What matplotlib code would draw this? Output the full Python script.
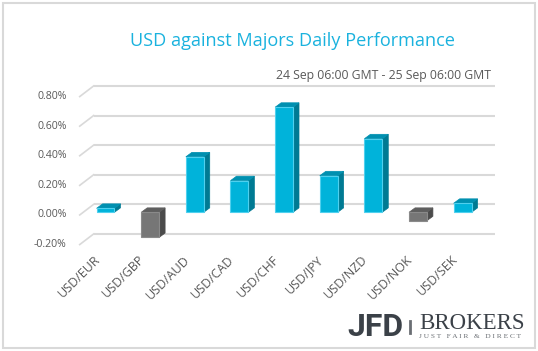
import matplotlib
matplotlib.use("Agg")
from matplotlib import pyplot as plt
from matplotlib.patches import Polygon, Rectangle
from matplotlib.lines import Line2D

pairs = ["USD/EUR", "USD/GBP", "USD/AUD", "USD/CAD", "USD/CHF",
         "USD/JPY", "USD/NZD", "USD/NOK", "USD/SEK"]
changes = [0.027, -0.17, 0.375, 0.214, 0.71, 0.247, 0.497, -0.057, 0.061]
y_ticks = [-0.2, 0.0, 0.2, 0.4, 0.6, 0.8]
y_tick_labels = ["-0.20%", "0.00%", "0.20%", "0.40%", "0.60%", "0.80%"]

W, H = 538, 351
plt.rcParams["font.family"] = ["Open Sans", "DejaVu Sans"]

fig = plt.figure(figsize=(W / 100, H / 100), dpi=100)


def fx(px):
    return px / W


def fy(py):
    return 1 - py / H


# axes box = bar plane, x from -0.5 to 8.5, y from -0.2 to 0.8
ax = fig.add_axes([fx(83.2), fy(241.9), (484.9 - 83.2) / W, (241.9 - 93.9) / H])
ax.set_xlim(-0.5, 8.5)
ax.set_ylim(-0.2, 0.8)
ax.axis("off")

# perspective offsets (data units)
back_dx, back_dy = 0.235, 0.054
front_dx, front_dy = -0.078, -0.018
depth_dx, depth_dy = 0.135, 0.030
bar_w = 0.40

grid_col = "#d9d9d9"
for t, lab in zip(y_ticks, y_tick_labels):
    ax.plot([-0.5 + back_dx, 8.5 + back_dx], [t + back_dy, t + back_dy],
            color=grid_col, lw=1.5, zorder=1, clip_on=False, solid_capstyle="butt")
    ax.plot([-0.5 + front_dx, -0.5 + back_dx], [t + front_dy, t + back_dy],
            color=grid_col, lw=1.2, zorder=1, clip_on=False)
    ax.text(-0.87, t + front_dy, lab, ha="right", va="center",
            fontsize=7.6, color="#595959")

blue = ("#00b3da", "#007a93", "#0090b0", "#4fd0ee")
grey = ("#767676", "#4b4b4b", "#5e5e5e", "#8a8a8a")

for i, v in enumerate(changes):
    front, side, top, edge = blue if v >= 0 else grey
    lo, hi = min(0, v), max(0, v)
    xl, xr = i - bar_w / 2, i + bar_w / 2
    ax.add_patch(Polygon([(xr, lo), (xr + depth_dx, lo + depth_dy),
                          (xr + depth_dx, hi + depth_dy), (xr, hi)],
                         closed=True, facecolor=side, edgecolor=side, lw=0.5,
                         zorder=3, clip_on=False))
    ax.add_patch(Polygon([(xl, hi), (xr, hi), (xr + depth_dx, hi + depth_dy),
                          (xl + depth_dx, hi + depth_dy)],
                         closed=True, facecolor=top, edgecolor=top, lw=0.5,
                         zorder=3, clip_on=False))
ax.bar(range(len(changes)), changes, width=bar_w,
       color=[blue[0] if v >= 0 else grey[0] for v in changes],
       edgecolor=[blue[3] if v >= 0 else grey[3] for v in changes],
       linewidth=0.8, zorder=4, clip_on=False)

for i, lab in enumerate(pairs):
    ax.text(i - 0.06, -0.275, lab, rotation=45, ha="right", va="top",
            fontsize=9, color="#595959")

fig.text(fx(293), fy(40.5), "USD against Majors Daily Performance",
         ha="center", va="center", fontsize=13.1, color="#1ab2de")
fig.text(fx(491), fy(76), "24 Sep 06:00 GMT - 25 Sep 06:00 GMT",
         ha="right", va="center", fontsize=8.85, color="#595959")

# logo
fig.text(fx(347), fy(336), "JFD", ha="left", va="baseline",
         fontsize=23, fontweight="bold", family=["Roboto", "DejaVu Sans"],
         color="#3b4148")
fig.add_artist(Line2D([fx(410), fx(410)], [fy(333), fy(321)], color="#6a6e73", lw=2))
fig.text(fx(419), fy(329), "BROKERS", ha="left", va="baseline",
         fontsize=16.5, family=["Liberation Serif", "DejaVu Serif"], color="#3b4148")
fig.text(fx(419), fy(338.5), "J U S T   F A I R   &   D I R E C T", ha="left", va="baseline",
         fontsize=5.3, family=["Liberation Serif", "DejaVu Serif"], color="#6a6e73")

fig.add_artist(Rectangle((fx(2.5), fy(347.5)), fx(535) - fx(2.5), fy(2.5) - fy(347.5),
                         fill=False, edgecolor="#d9d9d9", lw=1.5))

fig.savefig("out.png", dpi=100)
